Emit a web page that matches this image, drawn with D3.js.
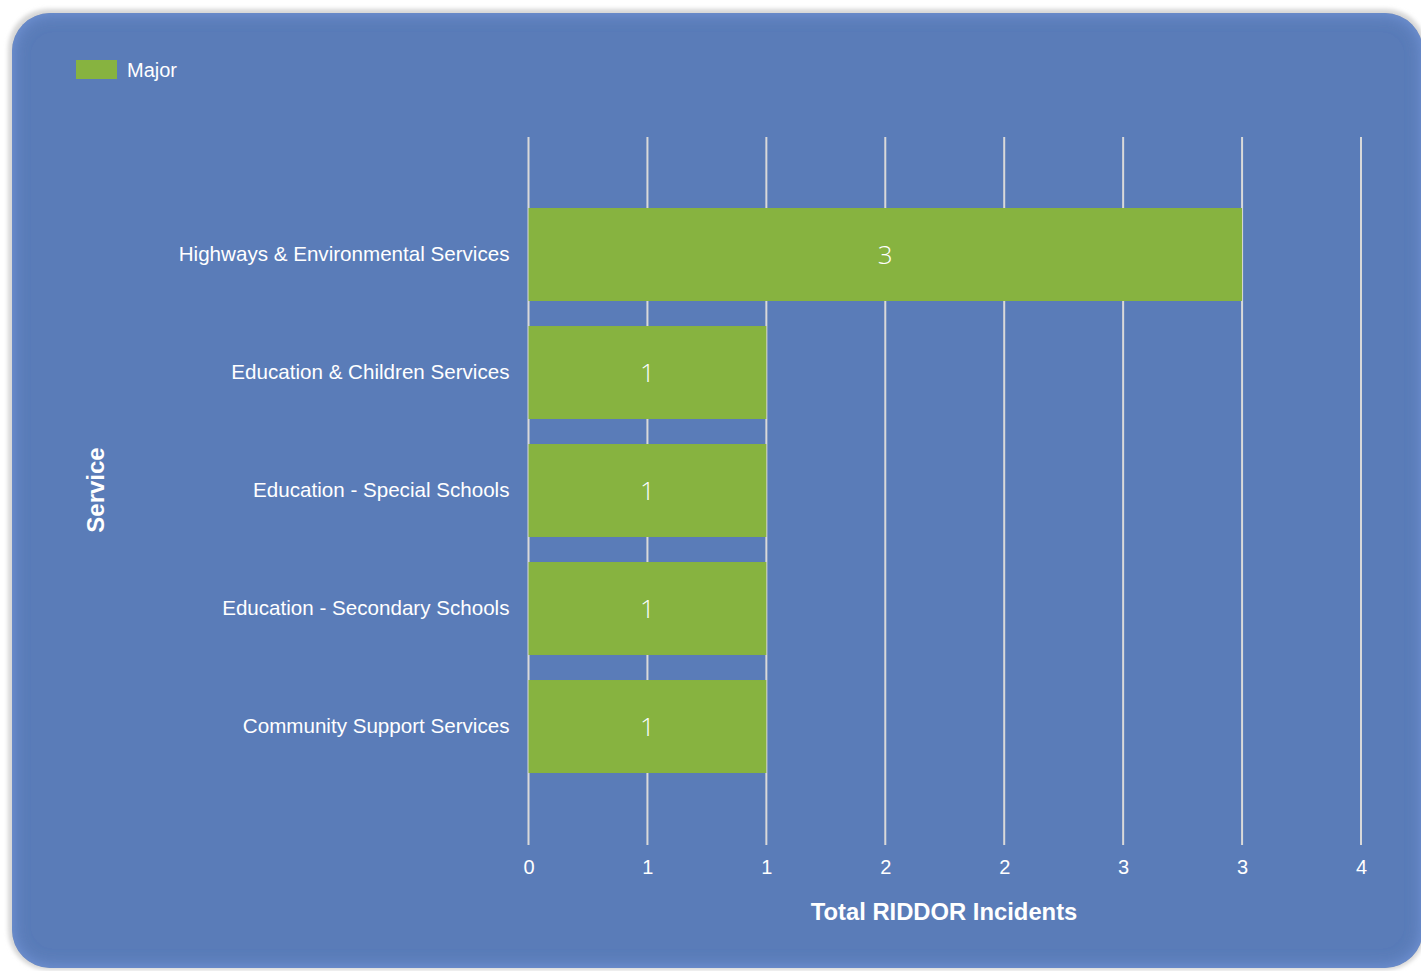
<!DOCTYPE html>
<html>
<head>
<meta charset="utf-8">
<script src="https://cdn.jsdelivr.net/npm/d3@7"></script>
<style>
  html, body { margin: 0; padding: 0; background: #ffffff; }
  svg { display: block; }
</style>
</head>
<body>
<svg id="chart" width="1421" height="971"></svg>
<script>
// Services and their major RIDDOR incident counts (top to bottom)
const services = [
  "Highways & Environmental Services",
  "Education & Children Services",
  "Education - Special Schools",
  "Education - Secondary Schools",
  "Community Support Services"
];
const majorIncidents = [3, 1, 1, 1, 1];
// Axis ticks step by a half, shown rounded to whole numbers
const tickValues = [0, 0.5, 1, 1.5, 2, 2.5, 3, 3.5];
const tickLabels = ["0", "1", "1", "2", "2", "3", "3", "4"];
const seriesName = "Major";

const svg = d3.select("#chart");
const defs = svg.append("defs");

// Panel background with a soft lighter rim
const glow = defs.append("filter").attr("id", "innerGlow")
  .attr("x", "-5%").attr("y", "-5%").attr("width", "110%").attr("height", "110%");
glow.append("feGaussianBlur").attr("in", "SourceAlpha").attr("stdDeviation", 8).attr("result", "blur");
glow.append("feComposite").attr("in", "SourceAlpha").attr("in2", "blur").attr("operator", "arithmetic")
  .attr("k2", 1).attr("k3", -1).attr("result", "rim");
glow.append("feFlood").attr("flood-color", "#7a9de0").attr("flood-opacity", 0.8);
glow.append("feComposite").attr("in2", "rim").attr("operator", "in").attr("result", "rimColor");
const merge = glow.append("feMerge");
merge.append("feMergeNode").attr("in", "SourceGraphic");
merge.append("feMergeNode").attr("in", "rimColor");

const shadow = defs.append("filter").attr("id", "outerShadow")
  .attr("x", "-5%").attr("y", "-5%").attr("width", "110%").attr("height", "110%");
shadow.append("feGaussianBlur").attr("stdDeviation", 2);

// outer gray frame
svg.append("rect")
  .attr("x", 8).attr("y", 9).attr("width", 1418).attr("height", 961)
  .attr("rx", 40).attr("ry", 40)
  .attr("fill", "#d6d6d6")
  .attr("filter", "url(#outerShadow)");

svg.append("rect")
  .attr("x", 12).attr("y", 13).attr("width", 1411).attr("height", 955)
  .attr("rx", 38).attr("ry", 38)
  .attr("fill", "#5a7bb8")
  .attr("filter", "url(#innerGlow)");

// Scales
const x = d3.scaleLinear().domain([0, 3.5]).range([528.5, 1361]);
const y = d3.scaleBand().domain(services).range([195.5, 785.5]).paddingInner(0.212).paddingOuter(0.106);

const gridTop = 137, gridBottom = 845;

// Vertical gridlines
svg.append("g").selectAll("line")
  .data(tickValues)
  .join("line")
  .attr("x1", d => x(d)).attr("x2", d => x(d))
  .attr("y1", gridTop).attr("y2", gridBottom)
  .attr("stroke", "#d9d9d9")
  .attr("stroke-width", 2);

// Bars
const data = services.map((s, i) => ({ service: s, value: majorIncidents[i] }));
svg.append("g").selectAll("rect")
  .data(data)
  .join("rect")
  .attr("x", x(0))
  .attr("y", d => y(d.service))
  .attr("width", d => x(d.value) - x(0))
  .attr("height", y.bandwidth())
  .attr("fill", "#87b340");

// Value labels at bar centres
svg.append("g").selectAll("text")
  .data(data)
  .join("text")
  .attr("x", d => (x(0) + x(d.value)) / 2)
  .attr("y", d => y(d.service) + y.bandwidth() / 2)
  .attr("dy", "0.36em")
  .attr("text-anchor", "middle")
  .attr("fill", "#ffffff")
  .attr("font-family", "'Open Sans', 'DejaVu Sans', sans-serif")
  .attr("font-weight", 300)
  .attr("font-size", 26)
  .text(d => d.value);

// X axis tick labels
const xAxis = d3.axisBottom(x)
  .tickValues(tickValues)
  .tickFormat((d, i) => tickLabels[i])
  .tickSize(0)
  .tickPadding(0);
const gx = svg.append("g").attr("transform", `translate(0, ${gridBottom + 15})`).call(xAxis);
gx.select(".domain").remove();
gx.selectAll("text")
  .attr("fill", "#ffffff")
  .attr("font-family", "'Liberation Sans', Arial, sans-serif")
  .attr("font-size", 20)
  .attr("dy", "0.71em");

// Y axis category labels
const yAxis = d3.axisLeft(y).tickSize(0).tickPadding(19);
const gy = svg.append("g").attr("transform", `translate(${x(0)}, 0)`).call(yAxis);
gy.select(".domain").remove();
gy.selectAll("text")
  .attr("fill", "#ffffff")
  .attr("font-family", "'Liberation Sans', Arial, sans-serif")
  .attr("font-size", 20.6);

// Axis titles
svg.append("text")
  .attr("x", 944).attr("y", 920)
  .attr("text-anchor", "middle")
  .attr("fill", "#ffffff")
  .attr("font-family", "'Liberation Sans', Arial, sans-serif")
  .attr("font-weight", "bold")
  .attr("font-size", 23.8)
  .text("Total RIDDOR Incidents");

svg.append("text")
  .attr("transform", "translate(104, 490) rotate(-90)")
  .attr("text-anchor", "middle")
  .attr("fill", "#ffffff")
  .attr("font-family", "'Liberation Sans', Arial, sans-serif")
  .attr("font-weight", "bold")
  .attr("font-size", 24)
  .text("Service");

// Legend
const legend = svg.append("g").attr("transform", "translate(76, 60)");
legend.append("rect").attr("width", 41).attr("height", 19).attr("fill", "#87b340");
legend.append("text")
  .attr("x", 51).attr("y", 10).attr("dy", "0.35em")
  .attr("fill", "#ffffff")
  .attr("font-family", "'Liberation Sans', Arial, sans-serif")
  .attr("font-size", 20)
  .text(seriesName);
</script>
</body>
</html>
